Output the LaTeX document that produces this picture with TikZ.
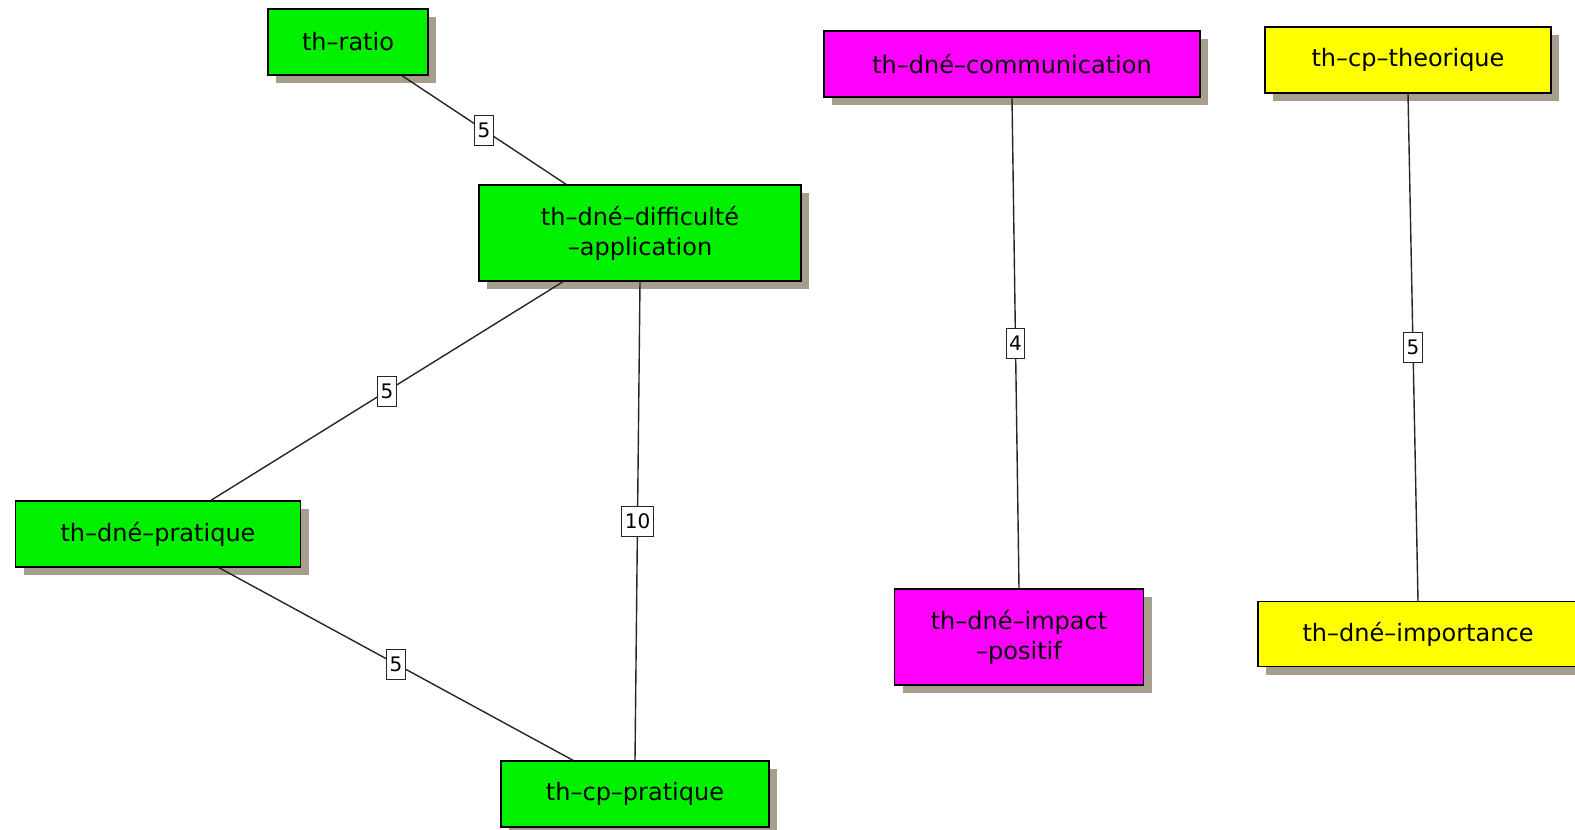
\documentclass[tikz,border=0pt]{standalone}
\usepackage{fontspec}
\setmainfont{DejaVu Sans}
\usetikzlibrary{shadows}

\definecolor{vert}{RGB}{0,240,0}
\definecolor{rose}{RGB}{255,0,255}
\definecolor{jaune}{RGB}{255,255,0}
\definecolor{ombre}{RGB}{168,158,142}

\begin{document}
\begin{tikzpicture}[x=0.5pt, y=-0.5pt,
    theme/.style={rectangle, draw, line width=0.7pt, align=center, inner sep=0pt,
        font=\fontsize{12}{15}\selectfont,
        drop shadow={shadow xshift=4pt, shadow yshift=-4pt, fill=ombre, opacity=1}},
    poids/.style={rectangle, draw, fill=white, line width=0.5pt, inner xsep=1.5pt,
        inner ysep=0pt, minimum height=15pt, font=\fontsize{10}{12}\selectfont},
    lien/.style={draw=black!85, line width=0.7pt}]
    \useasboundingbox (0,0) rectangle (1575,830);

    \node[theme, fill=vert, minimum width=80pt, minimum height=33pt] (ratio) at (348,42) {th–ratio};
    \node[theme, fill=vert, minimum width=161pt, minimum height=48pt] (diffapp) at (640,233) {th–dné–difficulté\\–application};
    \node[theme, fill=vert, minimum width=142.5pt, minimum height=33pt] (dnepratique) at (158,534) {th–dné–pratique};
    \node[theme, fill=vert, minimum width=134pt, minimum height=33pt] (cppratique) at (635,794) {th–cp–pratique};
    \node[theme, fill=rose, minimum width=188pt, minimum height=33pt] (comm) at (1012,64) {th–dné–communication};
    \node[theme, fill=rose, minimum width=124.5pt, minimum height=48pt] (impact) at (1019,637) {th–dné–impact\\–positif};
    \node[theme, fill=jaune, minimum width=143pt, minimum height=33pt] (theorique) at (1408,60) {th–cp–theorique};
    \node[theme, fill=jaune, minimum width=160pt, minimum height=32.5pt] (importance) at (1418,634) {th–dné–importance};

    \draw[lien] ([xshift=27pt]ratio.south) -- ([xshift=-37pt]diffapp.north) node[poids, midway] {5};
    \draw[lien] ([xshift=-38.5pt]diffapp.south) -- ([xshift=26.5pt]dnepratique.north) node[poids, midway] {5};
    \draw[lien] (diffapp.south) -- (cppratique.north) node[poids, midway] {10};
    \draw[lien] ([xshift=30.5pt]dnepratique.south) -- ([xshift=-31pt]cppratique.north) node[poids, midway] {5};
    \draw[lien] (comm.south) -- (impact.north) node[poids, midway] {4};
    \draw[lien] (theorique.south) -- (importance.north) node[poids, midway] {5};
\end{tikzpicture}
\end{document}
